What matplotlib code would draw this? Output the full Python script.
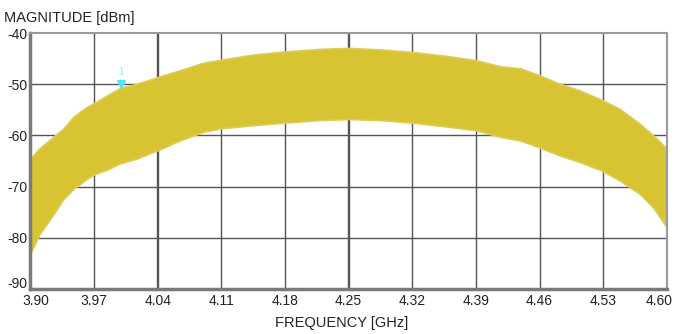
import matplotlib.pyplot as plt
import matplotlib.transforms as mtransforms

# envelope of the swept trace
freq_ghz = [3.900, 3.910, 3.925, 3.936, 3.947, 3.962, 3.970, 3.984, 3.998,
            4.017, 4.040, 4.064, 4.090, 4.110, 4.145, 4.180, 4.218, 4.250,
            4.285, 4.320, 4.355, 4.390, 4.417, 4.439, 4.459, 4.482, 4.504,
            4.529, 4.548, 4.570, 4.585, 4.600]
upper_dbm = [-64.5, -62.5, -60.3, -58.7, -56.4, -54.4, -53.7, -52.2, -50.8,
             -49.9, -48.6, -47.3, -45.8, -45.2, -44.2, -43.6, -43.1, -42.9,
             -43.2, -43.7, -44.4, -45.3, -46.5, -46.9, -48.2, -49.9, -51.2,
             -53.1, -54.8, -57.7, -60.0, -62.6]
lower_dbm = [-83.0, -79.3, -75.5, -72.5, -70.5, -68.5, -67.6, -66.7, -65.5,
             -64.5, -62.9, -61.0, -59.3, -58.6, -58.0, -57.5, -57.0, -56.8,
             -57.0, -57.5, -58.2, -59.0, -60.3, -61.0, -62.3, -63.9, -65.2,
             -66.9, -68.8, -71.4, -74.1, -78.0]

x_ticks = [3.90, 3.97, 4.04, 4.11, 4.18, 4.25, 4.32, 4.39, 4.46, 4.53, 4.60]
y_ticks = [-90, -80, -70, -60, -50, -40]

marker_f = 4.00
marker_db = -50.8

plt.rcParams['font.family'] = ['Liberation Sans', 'DejaVu Sans']

fig = plt.figure(figsize=(6.76, 3.34), dpi=100)
ax = fig.add_axes([0.045, 0.135, 0.9415, 0.766])

trace_col = '#d8c433'
ax.fill_between(freq_ghz, lower_dbm, upper_dbm, color=trace_col, lw=1.2,
                edgecolor='#dccb55', zorder=2)

ax.set_xlim(3.90, 4.60)
ax.set_ylim(-90, -40)
ax.set_xticks(x_ticks)
ax.set_xticklabels([f"{v:.2f}" for v in x_ticks])
ax.set_yticks(y_ticks)
ax.set_yticklabels([str(v) for v in y_ticks])
ax.tick_params(length=0, labelsize=10, colors='#222222')
ax.tick_params(axis='x', pad=4)
ax.tick_params(axis='y', pad=2)

# nudge the end labels inside like the analyser does
xl = ax.get_xticklabels()
xl[0].set_transform(xl[0].get_transform() + mtransforms.ScaledTranslation(5 / 100, 0, fig.dpi_scale_trans))
xl[-1].set_transform(xl[-1].get_transform() + mtransforms.ScaledTranslation(-8 / 100, 0, fig.dpi_scale_trans))
yl = ax.get_yticklabels()
yl[0].set_transform(yl[0].get_transform() + mtransforms.ScaledTranslation(0, 6 / 100, fig.dpi_scale_trans))

# grid, two lines drawn heavier like in the analyser screenshot
for xv in x_ticks[1:-1]:
    lw = 1.7 if xv in (4.04, 4.25) else 1.0
    ax.axvline(xv, color='#555555', lw=lw, zorder=1)
for yv in y_ticks[1:-1]:
    ax.axhline(yv, color='#555555', lw=1.0, zorder=1)

for side in ['top', 'right']:
    ax.spines[side].set_color('#9a9a9a')
    ax.spines[side].set_linewidth(1.5)
for side in ['left', 'bottom']:
    ax.spines[side].set_color('#7a7a7a')
    ax.spines[side].set_linewidth(2.5)

# marker 1
ax.plot([marker_f], [marker_db + 0.8], marker='v', color='#55e6f0',
        markersize=6, zorder=4, clip_on=False)
ax.text(marker_f, marker_db + 2.2, "1", color='#8ff0f6', fontsize=7,
        ha='center', va='bottom', zorder=4)

fig.text(0.006, 0.945, "MAGNITUDE [dBm]", fontsize=10.5, color='#222222',
         ha='left', va='center')
fig.text(0.506, 0.033, "FREQUENCY [GHz]", fontsize=10.5, color='#222222',
         ha='center', va='center')

fig.savefig("out.png", dpi=100)
